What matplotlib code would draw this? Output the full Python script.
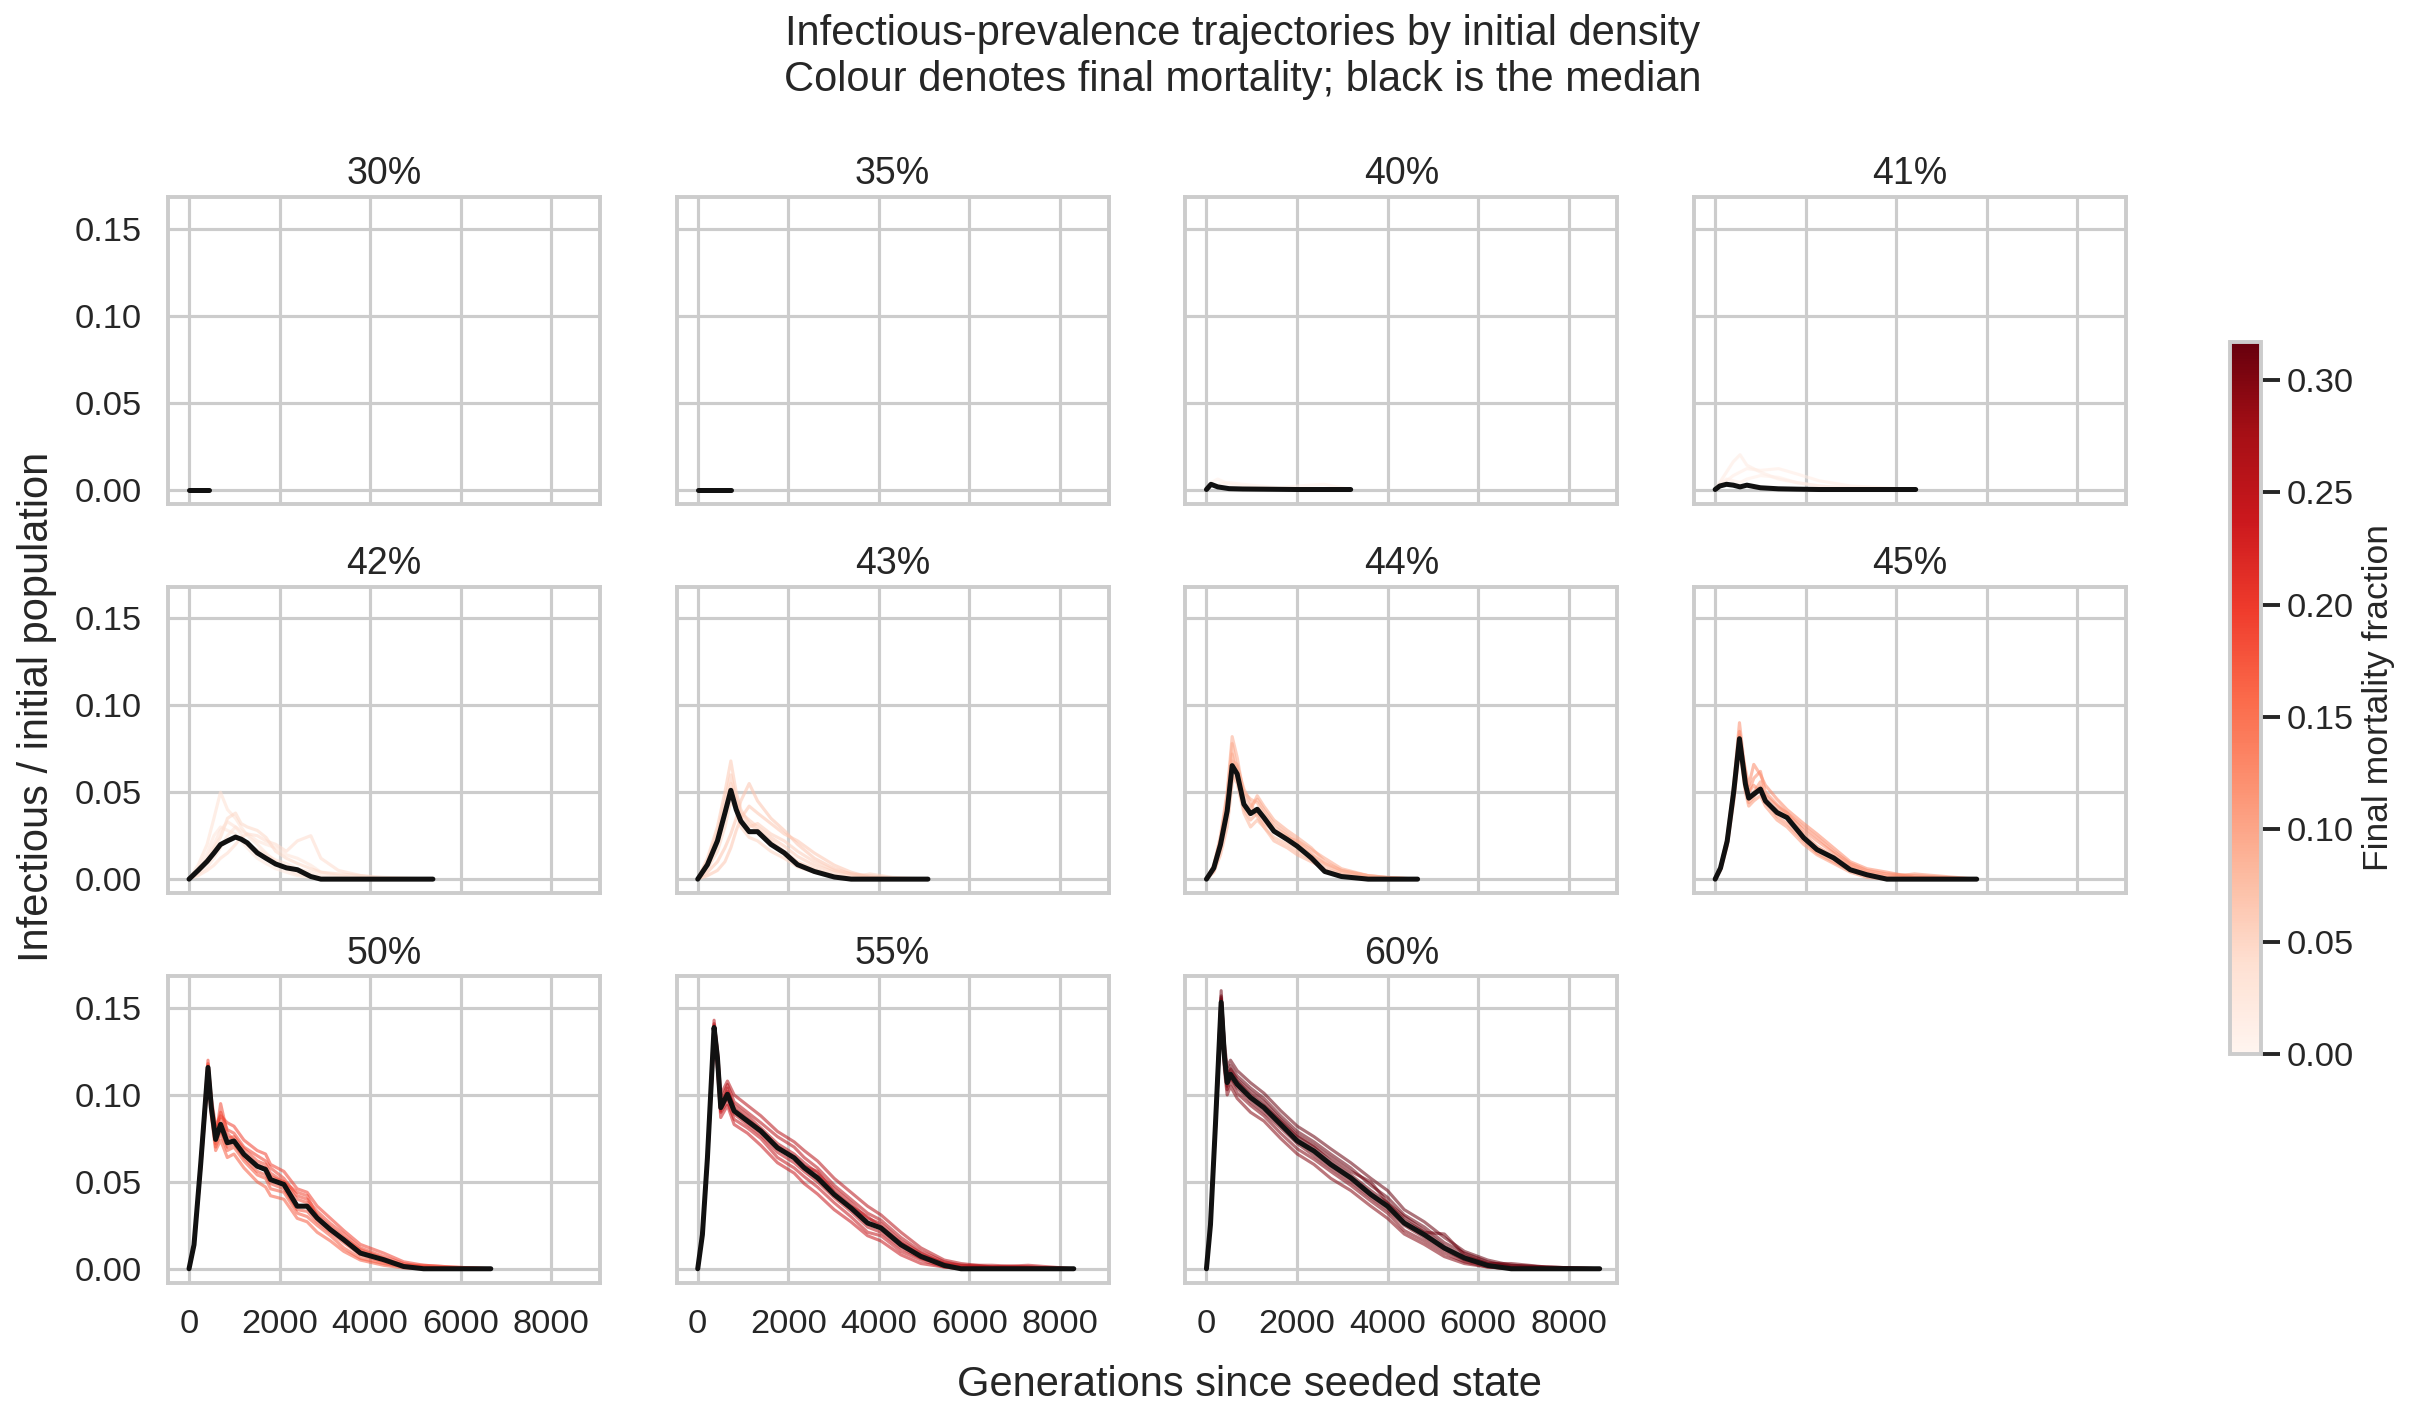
import numpy as np
import matplotlib
matplotlib.use("Agg")
import matplotlib.pyplot as plt
import seaborn as sns

sns.set_theme(context="talk", style="whitegrid")
plt.rcParams["font.family"] = ["Liberation Sans", "DejaVu Sans"]

# initial densities (panel titles)
densities = ["30%", "35%", "40%", "41%", "42%", "43%", "44%", "45%", "50%", "55%", "60%"]

# --- per-density data: generation grid, median prevalence, a few runs, their final mortality ---
gens_30 = [0, 440]
median_30 = [0, 0]
runs_30 = []
mort_30 = []

gens_35 = [0, 745]
median_35 = [0, 0]
runs_35 = []
mort_35 = []

gens_40 = [0, 100, 250, 500, 800, 1200, 1600, 2000, 2600, 3186]
median_40 = [0, 0.003, 0.0015, 0.0005, 0.0003, 0.0002, 0.0001, 0, 0, 0]
runs_40 = [
    [0, 0.004, 0.006, 0.003, 0.002, 0.001, 0.0005, 0, 0, 0],
    [0, 0.002, 0.003, 0.004, 0.003, 0.002, 0.001, 0.002, 0.003, 0],
    [0, 0.003, 0.002, 0.001, 0.0005, 0, 0, 0, 0, 0],
]
mort_40 = [0.008, 0.01, 0.005]

gens_41 = [0, 100, 250, 400, 550, 700, 1000, 1400, 1800, 2300, 3000, 4430]
median_41 = [0, 0.002, 0.003, 0.0025, 0.0015, 0.0025, 0.001, 0.0004, 0.0002, 0, 0, 0]
runs_41 = [
    [0, 0.004, 0.01, 0.016, 0.02, 0.014, 0.01, 0.006, 0.004, 0.002, 0.0005, 0],
    [0, 0.002, 0.005, 0.008, 0.01, 0.012, 0.011, 0.012, 0.009, 0.005, 0.002, 0],
    [0, 0.003, 0.006, 0.005, 0.004, 0.006, 0.008, 0.007, 0.004, 0.002, 0.001, 0],
]
mort_41 = [0.02, 0.018, 0.015]

gens_42 = [0, 200, 399, 550, 695, 850, 1027, 1150, 1286, 1508, 1700, 1914, 2150, 2394,
           2690, 2912, 3300, 3800, 4300, 5387]
median_42 = [0, 0.005, 0.0102, 0.015, 0.0199, 0.022, 0.0242, 0.023, 0.0209, 0.0151, 0.012,
             0.0087, 0.0065, 0.0054, 0.0015, 0, 0, 0, 0, 0]
runs_42 = [
    [0, 0.008, 0.02, 0.035, 0.05, 0.04, 0.035, 0.03, 0.025, 0.02, 0.015, 0.01, 0.006, 0.003, 0.001, 0, 0, 0, 0, 0],
    [0, 0.003, 0.007, 0.012, 0.018, 0.025, 0.03, 0.028, 0.026, 0.022, 0.02, 0.018, 0.014, 0.012, 0.008, 0.004, 0.002, 0.0005, 0, 0],
    [0, 0.002, 0.005, 0.008, 0.012, 0.015, 0.02, 0.024, 0.026, 0.025, 0.022, 0.02, 0.016, 0.022, 0.025, 0.012, 0.005, 0.002, 0, 0],
    [0, 0.006, 0.015, 0.025, 0.03, 0.028, 0.026, 0.022, 0.018, 0.012, 0.009, 0.006, 0.004, 0.002, 0.001, 0, 0, 0, 0, 0],
    [0, 0.004, 0.01, 0.018, 0.024, 0.035, 0.038, 0.032, 0.03, 0.028, 0.024, 0.016, 0.012, 0.009, 0.006, 0.004, 0.003, 0.002, 0.001, 0],
    [0, 0.005, 0.012, 0.02, 0.028, 0.033, 0.03, 0.026, 0.02, 0.017, 0.014, 0.011, 0.009, 0.006, 0.004, 0.002, 0.001, 0, 0, 0],
]
mort_42 = [0.04, 0.035, 0.045, 0.03, 0.05, 0.038]

gens_43 = [0, 214, 435, 600, 731, 850, 952, 1136, 1321, 1616, 1911, 2206, 2576, 3019, 3388,
           3800, 4300, 5085]
median_43 = [0, 0.0083, 0.022, 0.038, 0.0511, 0.040, 0.0334, 0.0273, 0.0273, 0.020, 0.0151,
             0.0083, 0.0044, 0.0012, 0, 0, 0, 0]
runs_43 = [
    [0, 0.012, 0.03, 0.05, 0.068, 0.05, 0.04, 0.032, 0.028, 0.022, 0.016, 0.01, 0.006, 0.002, 0.0005, 0, 0, 0],
    [0, 0.004, 0.01, 0.018, 0.026, 0.035, 0.045, 0.055, 0.045, 0.035, 0.028, 0.02, 0.012, 0.006, 0.003, 0.002, 0.0005, 0],
    [0, 0.009, 0.024, 0.04, 0.055, 0.045, 0.036, 0.03, 0.032, 0.026, 0.022, 0.016, 0.01, 0.005, 0.003, 0.001, 0, 0],
    [0, 0.006, 0.016, 0.03, 0.045, 0.04, 0.03, 0.024, 0.022, 0.016, 0.012, 0.007, 0.004, 0.002, 0.0008, 0.003, 0.001, 0],
    [0, 0.002, 0.005, 0.01, 0.018, 0.028, 0.035, 0.042, 0.038, 0.032, 0.026, 0.022, 0.015, 0.008, 0.004, 0.001, 0, 0],
    [0, 0.01, 0.027, 0.045, 0.06, 0.046, 0.038, 0.034, 0.03, 0.024, 0.019, 0.013, 0.008, 0.004, 0.002, 0.001, 0, 0],
]
mort_43 = [0.065, 0.07, 0.06, 0.055, 0.068, 0.062]

gens_44 = [0, 162, 310, 458, 568, 679, 827, 974, 1122, 1269, 1491, 1786, 2007, 2317, 2613,
           2982, 3572, 4000, 4664]
median_44 = [0, 0.0064, 0.0199, 0.0392, 0.0653, 0.0605, 0.0431, 0.0377, 0.0402, 0.0354,
             0.0276, 0.0228, 0.0189, 0.0122, 0.0044, 0.0015, 0, 0, 0]
runs_44 = [
    [0, 0.008, 0.025, 0.05, 0.082, 0.07, 0.048, 0.042, 0.046, 0.04, 0.032, 0.026, 0.022, 0.015, 0.008, 0.004, 0.001, 0, 0],
    [0, 0.004, 0.014, 0.03, 0.055, 0.065, 0.052, 0.044, 0.036, 0.03, 0.022, 0.018, 0.014, 0.01, 0.006, 0.003, 0.0005, 0, 0],
    [0, 0.007, 0.022, 0.045, 0.072, 0.058, 0.04, 0.034, 0.038, 0.032, 0.028, 0.024, 0.022, 0.017, 0.012, 0.006, 0.002, 0.001, 0],
    [0, 0.005, 0.017, 0.036, 0.06, 0.055, 0.038, 0.03, 0.034, 0.03, 0.024, 0.02, 0.016, 0.011, 0.005, 0.002, 0, 0, 0],
    [0, 0.006, 0.02, 0.04, 0.068, 0.066, 0.05, 0.046, 0.044, 0.038, 0.03, 0.025, 0.02, 0.014, 0.009, 0.005, 0.002, 0.0008, 0],
    [0, 0.007, 0.023, 0.048, 0.078, 0.062, 0.044, 0.04, 0.048, 0.042, 0.034, 0.028, 0.024, 0.018, 0.01, 0.005, 0.002, 0.001, 0],
]
mort_44 = [0.095, 0.09, 0.1, 0.085, 0.092, 0.097]

gens_45 = [0, 118, 265, 412, 537, 669, 742, 853, 1000, 1110, 1367, 1588, 1955, 2249, 2617,
           2984, 3352, 3793, 4400, 5777]
median_45 = [0, 0.0064, 0.0218, 0.0508, 0.0808, 0.0547, 0.0466, 0.0489, 0.0518, 0.045,
             0.0383, 0.0354, 0.0238, 0.017, 0.0122, 0.0054, 0.0025, 0, 0, 0]
runs_45 = [
    [0, 0.007, 0.024, 0.055, 0.09, 0.06, 0.05, 0.058, 0.062, 0.05, 0.043, 0.038, 0.028, 0.022, 0.015, 0.008, 0.004, 0.002, 0.001, 0],
    [0, 0.005, 0.019, 0.045, 0.075, 0.05, 0.042, 0.045, 0.048, 0.042, 0.034, 0.03, 0.02, 0.014, 0.009, 0.004, 0.001, 0, 0, 0],
    [0, 0.006, 0.022, 0.052, 0.085, 0.058, 0.05, 0.054, 0.05, 0.048, 0.042, 0.038, 0.03, 0.024, 0.016, 0.009, 0.005, 0.003, 0.002, 0],
    [0, 0.006, 0.02, 0.048, 0.078, 0.052, 0.046, 0.05, 0.056, 0.046, 0.036, 0.032, 0.022, 0.015, 0.01, 0.005, 0.002, 0.0005, 0, 0],
    [0, 0.007, 0.023, 0.05, 0.083, 0.056, 0.044, 0.047, 0.053, 0.044, 0.04, 0.036, 0.026, 0.019, 0.013, 0.007, 0.003, 0.001, 0.003, 0],
    [0, 0.006, 0.021, 0.049, 0.08, 0.063, 0.054, 0.066, 0.06, 0.054, 0.046, 0.04, 0.032, 0.026, 0.018, 0.01, 0.006, 0.004, 0.001, 0],
]
mort_45 = [0.125, 0.115, 0.13, 0.12, 0.118, 0.128]

gens_50 = [0, 110, 257, 419, 493, 588, 698, 845, 992, 1213, 1507, 1691, 1801, 2095, 2389,
           2609, 2830, 3124, 3418, 3785, 4300, 4741, 5182, 5800, 6666]
median_50 = [0, 0.0138, 0.06, 0.1158, 0.0927, 0.0744, 0.0831, 0.0725, 0.0735, 0.0658, 0.059,
             0.0571, 0.0513, 0.0485, 0.036, 0.036, 0.0292, 0.0225, 0.0167, 0.009, 0.0052,
             0.0013, 0, 0, 0]
runs_50 = [
    [0, 0.014, 0.062, 0.12, 0.095, 0.078, 0.09, 0.08, 0.078, 0.07, 0.065, 0.062, 0.058, 0.052, 0.042, 0.04, 0.033, 0.026, 0.02, 0.012, 0.007, 0.003, 0.001, 0.0005, 0],
    [0, 0.013, 0.058, 0.112, 0.09, 0.07, 0.078, 0.068, 0.07, 0.062, 0.054, 0.052, 0.046, 0.044, 0.032, 0.03, 0.025, 0.019, 0.012, 0.006, 0.003, 0.001, 0, 0, 0],
    [0, 0.014, 0.061, 0.117, 0.094, 0.076, 0.086, 0.075, 0.076, 0.069, 0.062, 0.06, 0.055, 0.05, 0.04, 0.038, 0.031, 0.024, 0.018, 0.011, 0.006, 0.002, 0.002, 0.001, 0],
    [0, 0.013, 0.059, 0.114, 0.091, 0.072, 0.08, 0.07, 0.072, 0.064, 0.056, 0.054, 0.049, 0.046, 0.034, 0.033, 0.027, 0.021, 0.015, 0.008, 0.004, 0.001, 0, 0, 0],
    [0, 0.014, 0.06, 0.116, 0.093, 0.075, 0.095, 0.078, 0.074, 0.066, 0.06, 0.058, 0.053, 0.05, 0.044, 0.042, 0.03, 0.022, 0.017, 0.01, 0.005, 0.002, 0.001, 0.0005, 0],
    [0, 0.014, 0.061, 0.118, 0.098, 0.082, 0.088, 0.084, 0.082, 0.074, 0.068, 0.066, 0.06, 0.056, 0.046, 0.044, 0.036, 0.029, 0.022, 0.014, 0.009, 0.004, 0.002, 0.001, 0],
    [0, 0.013, 0.057, 0.11, 0.088, 0.068, 0.074, 0.064, 0.066, 0.058, 0.05, 0.047, 0.042, 0.04, 0.029, 0.027, 0.021, 0.016, 0.01, 0.005, 0.002, 0.0005, 0, 0, 0],
]
mort_50 = [0.19, 0.175, 0.185, 0.18, 0.188, 0.192, 0.172]

gens_55 = [0, 103, 214, 361, 435, 508, 656, 804, 1098, 1393, 1761, 2130, 2351, 2646, 3014,
           3383, 3751, 4046, 4488, 4930, 5446, 5815, 6500, 7300, 8306]
median_55 = [0, 0.0196, 0.0638, 0.1388, 0.1215, 0.0927, 0.1004, 0.0908, 0.085, 0.0792,
             0.0696, 0.0638, 0.0581, 0.0523, 0.0427, 0.035, 0.0263, 0.0235, 0.0138, 0.0071,
             0.0019, 0, 0, 0, 0]
runs_55 = [
    [0, 0.02, 0.065, 0.143, 0.124, 0.096, 0.106, 0.096, 0.09, 0.084, 0.076, 0.07, 0.064, 0.058, 0.048, 0.04, 0.032, 0.028, 0.018, 0.01, 0.004, 0.002, 0.001, 0.0005, 0],
    [0, 0.019, 0.062, 0.135, 0.118, 0.09, 0.096, 0.086, 0.081, 0.075, 0.064, 0.058, 0.053, 0.047, 0.038, 0.03, 0.021, 0.019, 0.01, 0.005, 0.001, 0, 0, 0, 0],
    [0, 0.02, 0.064, 0.14, 0.122, 0.094, 0.102, 0.094, 0.088, 0.081, 0.072, 0.066, 0.061, 0.055, 0.046, 0.038, 0.029, 0.026, 0.016, 0.009, 0.003, 0.002, 0.002, 0.001, 0],
    [0, 0.019, 0.063, 0.137, 0.12, 0.091, 0.099, 0.089, 0.083, 0.077, 0.067, 0.061, 0.056, 0.05, 0.041, 0.033, 0.024, 0.021, 0.012, 0.006, 0.002, 0.001, 0, 0, 0],
    [0, 0.02, 0.064, 0.139, 0.121, 0.093, 0.104, 0.092, 0.086, 0.08, 0.07, 0.064, 0.059, 0.056, 0.044, 0.036, 0.03, 0.024, 0.015, 0.008, 0.003, 0.001, 0.001, 0.002, 0],
    [0, 0.02, 0.064, 0.141, 0.126, 0.1, 0.108, 0.1, 0.094, 0.088, 0.079, 0.073, 0.068, 0.062, 0.052, 0.044, 0.036, 0.031, 0.021, 0.012, 0.005, 0.003, 0.001, 0.001, 0],
    [0, 0.019, 0.061, 0.133, 0.115, 0.087, 0.094, 0.083, 0.078, 0.071, 0.061, 0.055, 0.049, 0.043, 0.034, 0.027, 0.019, 0.016, 0.008, 0.003, 0.001, 0, 0, 0, 0],
]
mort_55 = [0.255, 0.245, 0.252, 0.248, 0.25, 0.258, 0.242]

gens_60 = [0, 89, 199, 325, 399, 458, 531, 679, 974, 1269, 1638, 2007, 2376, 2745, 3188,
           3631, 4000, 4369, 4812, 5255, 5697, 6214, 6731, 7500, 8686]
median_60 = [0, 0.0254, 0.0831, 0.1533, 0.1215, 0.1071, 0.1119, 0.1061, 0.0985, 0.0927,
             0.0831, 0.0735, 0.0677, 0.06, 0.0523, 0.0427, 0.036, 0.0263, 0.0196, 0.0119,
             0.0062, 0.0019, 0, 0, 0]
runs_60 = [
    [0, 0.026, 0.085, 0.16, 0.126, 0.112, 0.117, 0.111, 0.104, 0.098, 0.088, 0.079, 0.073, 0.066, 0.058, 0.048, 0.041, 0.031, 0.024, 0.015, 0.009, 0.004, 0.001, 0.0005, 0],
    [0, 0.025, 0.081, 0.148, 0.117, 0.103, 0.108, 0.101, 0.094, 0.088, 0.078, 0.069, 0.063, 0.056, 0.048, 0.039, 0.032, 0.022, 0.016, 0.009, 0.004, 0.001, 0, 0, 0],
    [0, 0.025, 0.083, 0.155, 0.123, 0.109, 0.114, 0.108, 0.1, 0.094, 0.085, 0.076, 0.07, 0.062, 0.054, 0.045, 0.038, 0.028, 0.021, 0.02, 0.008, 0.003, 0.002, 0.001, 0],
    [0, 0.025, 0.082, 0.15, 0.119, 0.105, 0.11, 0.104, 0.096, 0.09, 0.081, 0.072, 0.065, 0.058, 0.05, 0.041, 0.034, 0.025, 0.018, 0.011, 0.005, 0.002, 0.001, 0, 0],
    [0, 0.026, 0.084, 0.157, 0.124, 0.11, 0.115, 0.109, 0.102, 0.096, 0.086, 0.077, 0.071, 0.064, 0.056, 0.05, 0.038, 0.03, 0.022, 0.013, 0.007, 0.003, 0.003, 0.001, 0],
    [0, 0.026, 0.084, 0.156, 0.129, 0.116, 0.12, 0.114, 0.107, 0.101, 0.091, 0.082, 0.076, 0.069, 0.061, 0.052, 0.045, 0.034, 0.027, 0.018, 0.01, 0.005, 0.002, 0.001, 0],
    [0, 0.025, 0.08, 0.146, 0.114, 0.1, 0.105, 0.098, 0.09, 0.085, 0.075, 0.066, 0.06, 0.052, 0.045, 0.036, 0.029, 0.02, 0.014, 0.007, 0.003, 0.001, 0, 0, 0],
]
mort_60 = [0.315, 0.3, 0.31, 0.305, 0.312, 0.317, 0.298]

panels = [
    (gens_30, median_30, runs_30, mort_30),
    (gens_35, median_35, runs_35, mort_35),
    (gens_40, median_40, runs_40, mort_40),
    (gens_41, median_41, runs_41, mort_41),
    (gens_42, median_42, runs_42, mort_42),
    (gens_43, median_43, runs_43, mort_43),
    (gens_44, median_44, runs_44, mort_44),
    (gens_45, median_45, runs_45, mort_45),
    (gens_50, median_50, runs_50, mort_50),
    (gens_55, median_55, runs_55, mort_55),
    (gens_60, median_60, runs_60, mort_60),
]

mort_max = 0.317
cmap = plt.get_cmap("Reds")
norm = matplotlib.colors.Normalize(vmin=0, vmax=mort_max)

fig, axes = plt.subplots(3, 4, figsize=(16.113, 9.42), dpi=150, sharex=True, sharey=True)
fig.subplots_adjust(left=0.0695, right=0.8796, bottom=0.092, top=0.8606, wspace=0.178, hspace=0.27)

for i, ax in enumerate(axes.flat):
    if i >= len(panels):
        ax.remove()
        continue
    gens, med, runs, morts = panels[i]
    for run, m in zip(runs, morts):
        ax.plot(gens, run, color=cmap(norm(m)), lw=1.5, alpha=0.55)
    ax.plot(gens, med, color="#111111", lw=2.4)
    ax.set_title(densities[i], fontsize=18)
    for sp in ax.spines.values():
        sp.set_color("#cccccc")

axes[0, 0].set_ylim(-0.0082, 0.1683)
axes[0, 0].set_yticks([0, 0.05, 0.10, 0.15])
axes[0, 0].set_xlim(-465, 9074)
axes[0, 0].set_xticks([0, 2000, 4000, 6000, 8000])

fig.suptitle("Infectious-prevalence trajectories by initial density\n"
             "Colour denotes final mortality; black is the median", fontsize=20, x=0.514, y=0.99)
fig.supxlabel("Generations since seeded state", fontsize=20, x=0.517, y=0.006)
fig.supylabel("Infectious / initial population", fontsize=20, x=0.007)

cax = fig.add_axes([0.9226, 0.254, 0.0128, 0.504])
sm = matplotlib.cm.ScalarMappable(norm=norm, cmap=cmap)
cb = fig.colorbar(sm, cax=cax)
cb.set_label("Final mortality fraction", fontsize=17)
cb.outline.set_edgecolor("#cccccc")
cb.set_ticks([0, 0.05, 0.10, 0.15, 0.20, 0.25, 0.30])

fig.savefig("out.png", dpi=150)
